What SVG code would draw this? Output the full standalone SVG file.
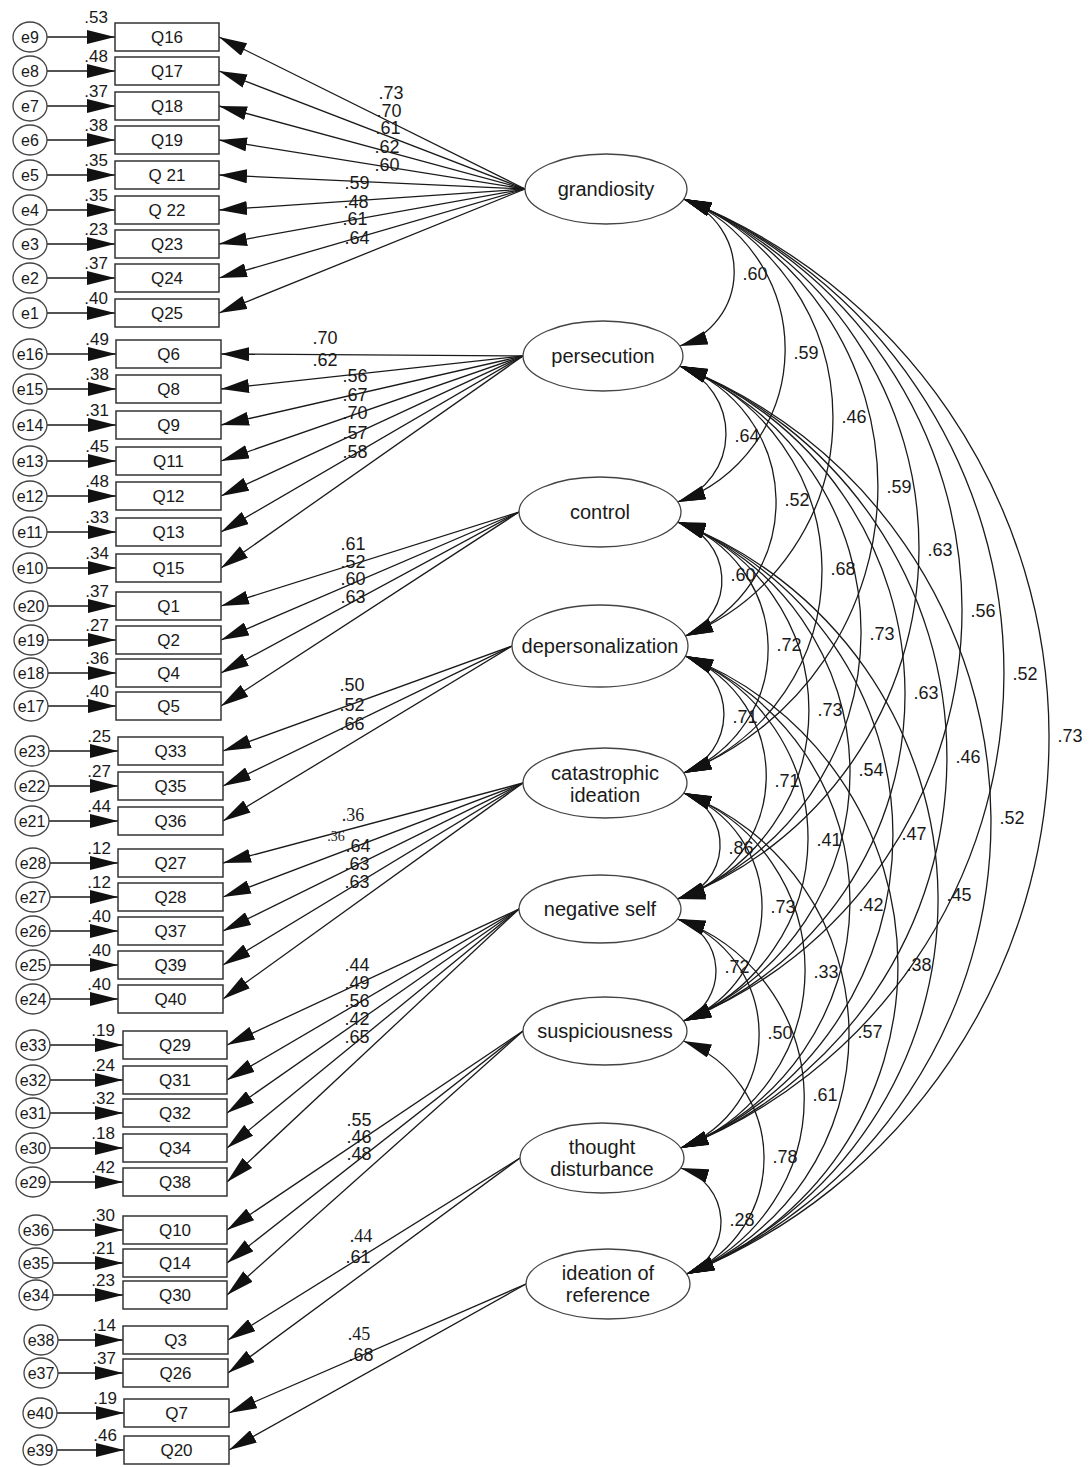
<svg xmlns="http://www.w3.org/2000/svg" width="1089" height="1467" viewBox="0 0 1089 1467">
<style>
text{font-family:"Liberation Sans",Arial,sans-serif;fill:#1a1a1a}
.lat ellipse{fill:#fff;stroke:#444;stroke-width:1.3}
.lat text{font-size:20px;text-anchor:middle}
.obs rect{fill:#fff;stroke:#333;stroke-width:1.5}
.obs text{font-size:17px;text-anchor:middle}
.err ellipse{fill:#fff;stroke:#444;stroke-width:1.3}
.err text{font-size:16px;text-anchor:middle}
.r2{font-size:17px;text-anchor:end}
.ld{font-size:18px;text-anchor:middle}
.sf{font-family:"Liberation Serif","Times New Roman",serif}
.cv{font-size:18px;text-anchor:middle}
#connectors path{fill:none;stroke:#1a1a1a;stroke-width:1.3}
#connectors .a{marker-end:url(#ah)}
#connectors .c{marker-start:url(#ah);marker-end:url(#ah)}
</style>
<defs>
<marker id="ah" viewBox="0 0 28 14" refX="28" refY="7" markerWidth="28" markerHeight="14" markerUnits="userSpaceOnUse" orient="auto-start-reverse"><path d="M0 0 L28 7 L0 14 z" fill="#111"/></marker>
</defs>
<rect width="1089" height="1467" fill="#fff"/>

<g id="connectors">
<!-- error to item -->
<path class="a" d="M47 37H115"/><path class="a" d="M47 71H115"/><path class="a" d="M47 106H115"/><path class="a" d="M47 140H115"/><path class="a" d="M47 175H115"/><path class="a" d="M47 210H115"/><path class="a" d="M47 244H115"/><path class="a" d="M47 278H115"/><path class="a" d="M47 313H115"/>
<path class="a" d="M47 354H116"/><path class="a" d="M47 389H116"/><path class="a" d="M47 425H116"/><path class="a" d="M47 461H116"/><path class="a" d="M47 496H116"/><path class="a" d="M47 532H116"/><path class="a" d="M47 568H116"/>
<path class="a" d="M48 606H116"/><path class="a" d="M48 640H116"/><path class="a" d="M48 673H116"/><path class="a" d="M48 706H116"/>
<path class="a" d="M49 751H118"/><path class="a" d="M49 786H118"/><path class="a" d="M49 821H118"/>
<path class="a" d="M50 863H118"/><path class="a" d="M50 897H118"/><path class="a" d="M50 931H118"/><path class="a" d="M50 965H118"/><path class="a" d="M50 999H118"/>
<path class="a" d="M50 1045H123"/><path class="a" d="M50 1080H123"/><path class="a" d="M50 1113H123"/><path class="a" d="M50 1148H123"/><path class="a" d="M50 1182H123"/>
<path class="a" d="M53 1230H123"/><path class="a" d="M53 1263H123"/><path class="a" d="M53 1295H123"/>
<path class="a" d="M58 1340H123"/><path class="a" d="M58 1373H123"/>
<path class="a" d="M57 1413H124"/><path class="a" d="M57 1450H124"/>
<!-- loadings -->
<path class="a" d="M525 189L219 37"/><path class="a" d="M525 189L219 71"/><path class="a" d="M525 189L219 106"/><path class="a" d="M525 189L219 140"/><path class="a" d="M525 189L219 175"/><path class="a" d="M525 189L219 210"/><path class="a" d="M525 189L219 244"/><path class="a" d="M525 189L219 278"/><path class="a" d="M525 189L219 313"/>
<path class="a" d="M523 356L221 354"/><path class="a" d="M523 356L221 389"/><path class="a" d="M523 356L221 425"/><path class="a" d="M523 356L221 461"/><path class="a" d="M523 356L221 496"/><path class="a" d="M523 356L221 532"/><path class="a" d="M523 356L221 568"/>
<path class="a" d="M519 512L221 606"/><path class="a" d="M519 512L221 640"/><path class="a" d="M519 512L221 673"/><path class="a" d="M519 512L221 706"/>
<path class="a" d="M512 646L223 751"/><path class="a" d="M512 646L223 786"/><path class="a" d="M512 646L223 821"/>
<path class="a" d="M523 783L223 863"/><path class="a" d="M523 783L223 897"/><path class="a" d="M523 783L223 931"/><path class="a" d="M523 783L223 965"/><path class="a" d="M523 783L223 999"/>
<path class="a" d="M519 909L227 1045"/><path class="a" d="M519 909L227 1080"/><path class="a" d="M519 909L227 1113"/><path class="a" d="M519 909L227 1148"/><path class="a" d="M519 909L227 1182"/>
<path class="a" d="M523 1031L227 1230"/><path class="a" d="M523 1031L227 1263"/><path class="a" d="M523 1031L227 1295"/>
<path class="a" d="M520 1158L228 1340"/><path class="a" d="M520 1158L228 1373"/>
<path class="a" d="M526 1284L229 1413"/><path class="a" d="M526 1284L229 1450"/>
<!-- covariances -->
<path class="c" d="M683.6 199A77.7 77.7 0 0 1 679.6 346"/>
<path class="c" d="M683.6 199A162.1 162.1 0 0 1 677.6 502"/>
<path class="c" d="M683.6 199A235 235 0 0 1 685.3 636"/>
<path class="c" d="M683.6 199A309.1 309.1 0 0 1 683.6 773"/>
<path class="c" d="M683.6 199A376.1 376.1 0 0 1 677.4 899"/>
<path class="c" d="M683.6 199A442.5 442.5 0 0 1 683.4 1021"/>
<path class="c" d="M683.6 199A510.7 510.7 0 0 1 680.6 1148"/>
<path class="c" d="M683.6 199A578.9 578.9 0 0 1 686.6 1274"/>
<path class="c" d="M679.6 366A72.5 72.5 0 0 1 677.6 502"/>
<path class="c" d="M679.6 366A144.2 144.2 0 0 1 685.3 636"/>
<path class="c" d="M679.6 366A217.7 217.7 0 0 1 683.6 773"/>
<path class="c" d="M679.6 366A285.8 285.8 0 0 1 677.4 899"/>
<path class="c" d="M679.6 366A351.7 351.7 0 0 1 683.4 1021"/>
<path class="c" d="M679.6 366A419.9 419.9 0 0 1 680.6 1148"/>
<path class="c" d="M679.6 366A488.7 488.7 0 0 1 686.6 1274"/>
<path class="c" d="M677.6 522A60.6 60.6 0 0 1 685.3 636"/>
<path class="c" d="M677.6 522A133.8 133.8 0 0 1 683.6 773"/>
<path class="c" d="M677.6 522A200.9 200.9 0 0 1 677.4 899"/>
<path class="c" d="M677.6 522A268.4 268.4 0 0 1 683.4 1021"/>
<path class="c" d="M677.6 522A336 336 0 0 1 680.6 1148"/>
<path class="c" d="M677.6 522A404.2 404.2 0 0 1 686.6 1274"/>
<path class="c" d="M685.3 656A63.1 63.1 0 0 1 683.6 773"/>
<path class="c" d="M685.3 656A129.5 129.5 0 0 1 677.4 899"/>
<path class="c" d="M685.3 656A196.5 196.5 0 0 1 683.4 1021"/>
<path class="c" d="M685.3 656A264.7 264.7 0 0 1 680.6 1148"/>
<path class="c" d="M685.3 656A331.2 331.2 0 0 1 686.6 1274"/>
<path class="c" d="M683.6 793A55.4 55.4 0 0 1 677.4 899"/>
<path class="c" d="M683.6 793A122 122 0 0 1 683.4 1021"/>
<path class="c" d="M683.6 793A189.6 189.6 0 0 1 680.6 1148"/>
<path class="c" d="M683.6 793A258.4 258.4 0 0 1 686.6 1274"/>
<path class="c" d="M677.4 919A54.5 54.5 0 0 1 683.4 1021"/>
<path class="c" d="M677.4 919A121.9 121.9 0 0 1 680.6 1148"/>
<path class="c" d="M677.4 919A190.1 190.1 0 0 1 686.6 1274"/>
<path class="c" d="M683.4 1041A125.4 125.4 0 0 1 686.6 1274"/>
<path class="c" d="M680.6 1168A56.4 56.4 0 0 1 686.6 1274"/>
</g>

<g id="labels-loadings">
<text class="ld" x="391" y="99">.73</text><text class="ld" x="389" y="117">.70</text><text class="ld" x="388" y="134">.61</text><text class="ld" x="387" y="153">.62</text><text class="ld" x="387" y="171">.60</text><text class="ld" x="357" y="189">.59</text><text class="ld" x="356" y="208">.48</text><text class="ld" x="355" y="225">.61</text><text class="ld" x="357" y="244">.64</text>
<text class="ld" x="325" y="344">.70</text><text class="ld" x="325" y="366">.62</text><text class="ld" x="355" y="382">.56</text><text class="ld" x="355" y="401">.67</text><text class="ld" x="355" y="419">.70</text><text class="ld" x="355" y="439">.57</text><text class="ld" x="355" y="458">.58</text>
<text class="ld" x="353" y="550">.61</text><text class="ld" x="353" y="568">.52</text><text class="ld" x="353" y="585">.60</text><text class="ld" x="353" y="603">.63</text>
<text class="ld" x="352" y="691">.50</text><text class="ld" x="352" y="711">.52</text><text class="ld" x="352" y="730">.66</text>
<text class="ld sf" x="353" y="821">.36</text><text class="sf" x="336" y="841" style="font-size:14px;text-anchor:middle">.36</text><text class="ld" x="358" y="852">.64</text><text class="ld" x="357" y="870">.63</text><text class="ld" x="357" y="888">.63</text>
<text class="ld" x="357" y="971">.44</text><text class="ld" x="357" y="989">.49</text><text class="ld" x="357" y="1007">.56</text><text class="ld" x="357" y="1025">.42</text><text class="ld" x="357" y="1043">.65</text>
<text class="ld" x="359" y="1126">.55</text><text class="ld" x="359" y="1143">.46</text><text class="ld" x="359" y="1160">.48</text>
<text class="ld sf" x="361" y="1242">.44</text><text class="ld" x="358" y="1263">.61</text>
<text class="ld sf" x="359" y="1340">.45</text><text class="ld" x="361" y="1361">.68</text>
</g>

<g id="labels-covariances">
<text class="cv" x="755" y="280">.60</text><text class="cv" x="806" y="359">.59</text><text class="cv" x="854" y="423">.46</text><text class="cv" x="899" y="493">.59</text><text class="cv" x="940" y="556">.63</text><text class="cv" x="983" y="617">.56</text><text class="cv" x="1025" y="680">.52</text><text class="cv" x="1070" y="742">.73</text>
<text class="cv" x="747" y="442">.64</text><text class="cv" x="797" y="506">.52</text><text class="cv" x="843" y="575">.68</text><text class="cv" x="882" y="640">.73</text><text class="cv" x="926" y="699">.63</text><text class="cv" x="968" y="763">.46</text><text class="cv" x="1012" y="824">.52</text>
<text class="cv" x="743" y="581">.60</text><text class="cv" x="789" y="651">.72</text><text class="cv" x="830" y="716">.73</text><text class="cv" x="871" y="776">.54</text><text class="cv" x="914" y="840">.47</text><text class="cv" x="959" y="901">.45</text>
<text class="cv" x="745" y="723">.71</text><text class="cv" x="787" y="787">.71</text><text class="cv" x="829" y="846">.41</text><text class="cv" x="871" y="911">.42</text><text class="cv" x="919" y="971">.38</text>
<text class="cv" x="741" y="854">.86</text><text class="cv" x="783" y="913">.73</text><text class="cv" x="826" y="978">.33</text><text class="cv" x="870" y="1038">.57</text>
<text class="cv" x="737" y="973">.72</text><text class="cv" x="780" y="1039">.50</text><text class="cv" x="825" y="1101">.61</text>
<text class="cv" x="785" y="1163">.78</text><text class="cv" x="742" y="1226">.28</text>
</g>

<g id="latents" class="lat">
<g id="grandiosity"><ellipse cx="606" cy="189" rx="81" ry="35"/><text x="606" y="196">grandiosity</text></g>
<g id="persecution"><ellipse cx="603" cy="356" rx="80" ry="35"/><text x="603" y="363">persecution</text></g>
<g id="control"><ellipse cx="600" cy="512" rx="81" ry="35"/><text x="600" y="519">control</text></g>
<g id="depersonalization"><ellipse cx="600" cy="646" rx="88" ry="41"/><text x="600" y="653">depersonalization</text></g>
<g id="catastrophic-ideation"><ellipse cx="605" cy="783" rx="82" ry="35"/><text x="605" y="780">catastrophic</text><text x="605" y="802">ideation</text></g>
<g id="negative-self"><ellipse cx="600" cy="909" rx="81" ry="34"/><text x="600" y="916">negative self</text></g>
<g id="suspiciousness"><ellipse cx="605" cy="1031" rx="82" ry="34"/><text x="605" y="1038">suspiciousness</text></g>
<g id="thought-disturbance"><ellipse cx="602" cy="1158" rx="82" ry="35"/><text x="602" y="1154">thought</text><text x="602" y="1176">disturbance</text></g>
<g id="ideation-of-reference"><ellipse cx="608" cy="1284" rx="82" ry="35"/><text x="608" y="1280">ideation of</text><text x="608" y="1302">reference</text></g>
</g>

<g id="items" class="obs">
<g id="Q16"><rect x="115" y="23" width="104" height="28"/><text x="167" y="43">Q16</text></g>
<g id="Q17"><rect x="115" y="57" width="104" height="28"/><text x="167" y="77">Q17</text></g>
<g id="Q18"><rect x="115" y="92" width="104" height="28"/><text x="167" y="112">Q18</text></g>
<g id="Q19"><rect x="115" y="126" width="104" height="28"/><text x="167" y="146">Q19</text></g>
<g id="Q21"><rect x="115" y="161" width="104" height="28"/><text x="167" y="181">Q 21</text></g>
<g id="Q22"><rect x="115" y="196" width="104" height="28"/><text x="167" y="216">Q 22</text></g>
<g id="Q23"><rect x="115" y="230" width="104" height="28"/><text x="167" y="250">Q23</text></g>
<g id="Q24"><rect x="115" y="264" width="104" height="28"/><text x="167" y="284">Q24</text></g>
<g id="Q25"><rect x="115" y="299" width="104" height="28"/><text x="167" y="319">Q25</text></g>
<g id="Q6"><rect x="116" y="340" width="105" height="28"/><text x="168.5" y="360">Q6</text></g>
<g id="Q8"><rect x="116" y="375" width="105" height="28"/><text x="168.5" y="395">Q8</text></g>
<g id="Q9"><rect x="116" y="411" width="105" height="28"/><text x="168.5" y="431">Q9</text></g>
<g id="Q11"><rect x="116" y="447" width="105" height="28"/><text x="168.5" y="467">Q11</text></g>
<g id="Q12"><rect x="116" y="482" width="105" height="28"/><text x="168.5" y="502">Q12</text></g>
<g id="Q13"><rect x="116" y="518" width="105" height="28"/><text x="168.5" y="538">Q13</text></g>
<g id="Q15"><rect x="116" y="554" width="105" height="28"/><text x="168.5" y="574">Q15</text></g>
<g id="Q1"><rect x="116" y="592" width="105" height="28"/><text x="168.5" y="612">Q1</text></g>
<g id="Q2"><rect x="116" y="626" width="105" height="28"/><text x="168.5" y="646">Q2</text></g>
<g id="Q4"><rect x="116" y="659" width="105" height="28"/><text x="168.5" y="679">Q4</text></g>
<g id="Q5"><rect x="116" y="692" width="105" height="28"/><text x="168.5" y="712">Q5</text></g>
<g id="Q33"><rect x="118" y="737" width="105" height="28"/><text x="170.5" y="757">Q33</text></g>
<g id="Q35"><rect x="118" y="772" width="105" height="28"/><text x="170.5" y="792">Q35</text></g>
<g id="Q36"><rect x="118" y="807" width="105" height="28"/><text x="170.5" y="827">Q36</text></g>
<g id="Q27"><rect x="118" y="849" width="105" height="28"/><text x="170.5" y="869">Q27</text></g>
<g id="Q28"><rect x="118" y="883" width="105" height="28"/><text x="170.5" y="903">Q28</text></g>
<g id="Q37"><rect x="118" y="917" width="105" height="28"/><text x="170.5" y="937">Q37</text></g>
<g id="Q39"><rect x="118" y="951" width="105" height="28"/><text x="170.5" y="971">Q39</text></g>
<g id="Q40"><rect x="118" y="985" width="105" height="28"/><text x="170.5" y="1005">Q40</text></g>
<g id="Q29"><rect x="123" y="1031" width="104" height="28"/><text x="175" y="1051">Q29</text></g>
<g id="Q31"><rect x="123" y="1066" width="104" height="28"/><text x="175" y="1086">Q31</text></g>
<g id="Q32"><rect x="123" y="1099" width="104" height="28"/><text x="175" y="1119">Q32</text></g>
<g id="Q34"><rect x="123" y="1134" width="104" height="28"/><text x="175" y="1154">Q34</text></g>
<g id="Q38"><rect x="123" y="1168" width="104" height="28"/><text x="175" y="1188">Q38</text></g>
<g id="Q10"><rect x="123" y="1216" width="104" height="28"/><text x="175" y="1236">Q10</text></g>
<g id="Q14"><rect x="123" y="1249" width="104" height="28"/><text x="175" y="1269">Q14</text></g>
<g id="Q30"><rect x="123" y="1281" width="104" height="28"/><text x="175" y="1301">Q30</text></g>
<g id="Q3"><rect x="123" y="1326" width="105" height="28"/><text x="175.5" y="1346">Q3</text></g>
<g id="Q26"><rect x="123" y="1359" width="105" height="28"/><text x="175.5" y="1379">Q26</text></g>
<g id="Q7"><rect x="124" y="1399" width="105" height="28"/><text x="176.5" y="1419">Q7</text></g>
<g id="Q20"><rect x="124" y="1436" width="105" height="28"/><text x="176.5" y="1456">Q20</text></g>
</g>

<g id="errors" class="err">
<g id="e9"><ellipse cx="30" cy="37" rx="17" ry="15"/><text x="30" y="43">e9</text></g>
<g id="e8"><ellipse cx="30" cy="71" rx="17" ry="15"/><text x="30" y="77">e8</text></g>
<g id="e7"><ellipse cx="30" cy="106" rx="17" ry="15"/><text x="30" y="112">e7</text></g>
<g id="e6"><ellipse cx="30" cy="140" rx="17" ry="15"/><text x="30" y="146">e6</text></g>
<g id="e5"><ellipse cx="30" cy="175" rx="17" ry="15"/><text x="30" y="181">e5</text></g>
<g id="e4"><ellipse cx="30" cy="210" rx="17" ry="15"/><text x="30" y="216">e4</text></g>
<g id="e3"><ellipse cx="30" cy="244" rx="17" ry="15"/><text x="30" y="250">e3</text></g>
<g id="e2"><ellipse cx="30" cy="278" rx="17" ry="15"/><text x="30" y="284">e2</text></g>
<g id="e1"><ellipse cx="30" cy="313" rx="17" ry="15"/><text x="30" y="319">e1</text></g>
<g id="e16"><ellipse cx="30" cy="354" rx="17" ry="15"/><text x="30" y="360">e16</text></g>
<g id="e15"><ellipse cx="30" cy="389" rx="17" ry="15"/><text x="30" y="395">e15</text></g>
<g id="e14"><ellipse cx="30" cy="425" rx="17" ry="15"/><text x="30" y="431">e14</text></g>
<g id="e13"><ellipse cx="30" cy="461" rx="17" ry="15"/><text x="30" y="467">e13</text></g>
<g id="e12"><ellipse cx="30" cy="496" rx="17" ry="15"/><text x="30" y="502">e12</text></g>
<g id="e11"><ellipse cx="30" cy="532" rx="17" ry="15"/><text x="30" y="538">e11</text></g>
<g id="e10"><ellipse cx="30" cy="568" rx="17" ry="15"/><text x="30" y="574">e10</text></g>
<g id="e20"><ellipse cx="31" cy="606" rx="17" ry="15"/><text x="31" y="612">e20</text></g>
<g id="e19"><ellipse cx="31" cy="640" rx="17" ry="15"/><text x="31" y="646">e19</text></g>
<g id="e18"><ellipse cx="31" cy="673" rx="17" ry="15"/><text x="31" y="679">e18</text></g>
<g id="e17"><ellipse cx="31" cy="706" rx="17" ry="15"/><text x="31" y="712">e17</text></g>
<g id="e23"><ellipse cx="32" cy="751" rx="17" ry="15"/><text x="32" y="757">e23</text></g>
<g id="e22"><ellipse cx="32" cy="786" rx="17" ry="15"/><text x="32" y="792">e22</text></g>
<g id="e21"><ellipse cx="32" cy="821" rx="17" ry="15"/><text x="32" y="827">e21</text></g>
<g id="e28"><ellipse cx="33" cy="863" rx="17" ry="15"/><text x="33" y="869">e28</text></g>
<g id="e27"><ellipse cx="33" cy="897" rx="17" ry="15"/><text x="33" y="903">e27</text></g>
<g id="e26"><ellipse cx="33" cy="931" rx="17" ry="15"/><text x="33" y="937">e26</text></g>
<g id="e25"><ellipse cx="33" cy="965" rx="17" ry="15"/><text x="33" y="971">e25</text></g>
<g id="e24"><ellipse cx="33" cy="999" rx="17" ry="15"/><text x="33" y="1005">e24</text></g>
<g id="e33"><ellipse cx="33" cy="1045" rx="17" ry="15"/><text x="33" y="1051">e33</text></g>
<g id="e32"><ellipse cx="33" cy="1080" rx="17" ry="15"/><text x="33" y="1086">e32</text></g>
<g id="e31"><ellipse cx="33" cy="1113" rx="17" ry="15"/><text x="33" y="1119">e31</text></g>
<g id="e30"><ellipse cx="33" cy="1148" rx="17" ry="15"/><text x="33" y="1154">e30</text></g>
<g id="e29"><ellipse cx="33" cy="1182" rx="17" ry="15"/><text x="33" y="1188">e29</text></g>
<g id="e36"><ellipse cx="36" cy="1230" rx="17" ry="15"/><text x="36" y="1236">e36</text></g>
<g id="e35"><ellipse cx="36" cy="1263" rx="17" ry="15"/><text x="36" y="1269">e35</text></g>
<g id="e34"><ellipse cx="36" cy="1295" rx="17" ry="15"/><text x="36" y="1301">e34</text></g>
<g id="e38"><ellipse cx="41" cy="1340" rx="17" ry="15"/><text x="41" y="1346">e38</text></g>
<g id="e37"><ellipse cx="41" cy="1373" rx="17" ry="15"/><text x="41" y="1379">e37</text></g>
<g id="e40"><ellipse cx="40" cy="1413" rx="17" ry="15"/><text x="40" y="1419">e40</text></g>
<g id="e39"><ellipse cx="40" cy="1450" rx="17" ry="15"/><text x="40" y="1456">e39</text></g>
</g>

<g id="labels-r2">
<text class="r2" x="108" y="23">.53</text><text class="r2" x="108" y="62">.48</text><text class="r2" x="108" y="97">.37</text><text class="r2" x="108" y="131">.38</text><text class="r2" x="108" y="166">.35</text><text class="r2" x="108" y="201">.35</text><text class="r2" x="108" y="235">.23</text><text class="r2" x="108" y="269">.37</text><text class="r2" x="108" y="304">.40</text>
<text class="r2" x="109" y="345">.49</text><text class="r2" x="109" y="380">.38</text><text class="r2" x="109" y="416">.31</text><text class="r2" x="109" y="452">.45</text><text class="r2" x="109" y="487">.48</text><text class="r2" x="109" y="523">.33</text><text class="r2" x="109" y="559">.34</text>
<text class="r2" x="109" y="597">.37</text><text class="r2" x="109" y="631">.27</text><text class="r2" x="109" y="664">.36</text><text class="r2" x="109" y="697">.40</text>
<text class="r2" x="111" y="742">.25</text><text class="r2" x="111" y="777">.27</text><text class="r2" x="111" y="812">.44</text>
<text class="r2" x="111" y="854">.12</text><text class="r2" x="111" y="888">.12</text><text class="r2" x="111" y="922">.40</text><text class="r2" x="111" y="956">.40</text><text class="r2" x="111" y="990">.40</text>
<text class="r2" x="115" y="1036">.19</text><text class="r2" x="115" y="1071">.24</text><text class="r2" x="115" y="1104">.32</text><text class="r2" x="115" y="1139">.18</text><text class="r2" x="115" y="1173">.42</text>
<text class="r2" x="115" y="1221">.30</text><text class="r2" x="115" y="1254">.21</text><text class="r2" x="115" y="1286">.23</text>
<text class="r2" x="116" y="1331">.14</text><text class="r2" x="116" y="1364">.37</text>
<text class="r2" x="117" y="1404">.19</text><text class="r2" x="117" y="1441">.46</text>
</g>
</svg>
